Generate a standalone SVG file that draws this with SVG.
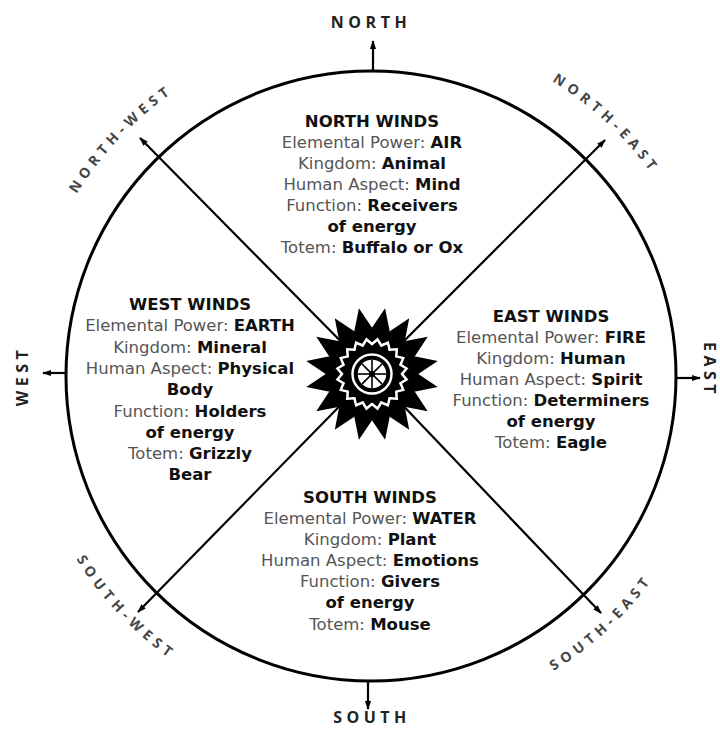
<svg xmlns="http://www.w3.org/2000/svg" xmlns:xlink="http://www.w3.org/1999/xlink" width="720" height="729" viewBox="0 0 720 729">
<style>
.t{font-family:"DejaVu Sans","Open Sans",sans-serif;font-size:16.5px;fill:#555;text-anchor:middle}
.b{font-weight:bold;fill:#111}
.h{font-family:"DejaVu Sans","Open Sans",sans-serif;font-size:16.5px;font-weight:bold;fill:#111;text-anchor:middle}
.d{font-family:"Open Sans","Liberation Sans",sans-serif;font-size:16px;font-weight:bold;fill:#222;letter-spacing:4.5px}
.dg{font-family:"Open Sans","Liberation Sans",sans-serif;font-size:14px;font-weight:bold;fill:#444;letter-spacing:5px}
.ln{stroke:#000;stroke-width:2.2;fill:none}
</style>
<defs>
<marker id="ah" viewBox="0 0 10 10" refX="9" refY="5" markerWidth="4" markerHeight="4" orient="auto" markerUnits="strokeWidth">
<path d="M0,1.5 L10,5 L0,8.5 Z" fill="#000"/>
</marker>
<polygon id="spike" points="0,-67 -9.2,-45 9.2,-45" fill="#000"/>
<path id="zz" d="M0,-30 L5.47,-34.57 L9.27,-28.53" fill="none" stroke="#fff" stroke-width="2.5" stroke-linejoin="miter" stroke-linecap="round"/>
<path id="pNW" d="M34.5,295.2 A346,346 0 0 1 272.7,44.3"/>
<path id="pNE" d="M448.8,38.9 A346,346 0 0 1 701.9,274.8"/>
<path id="pSW" d="M33.4,456.4 A347,347 0 0 0 271.9,708.5"/>
<path id="pSE" d="M449.1,714.1 A347,347 0 0 0 702.8,477.5"/>
</defs>
<rect width="720" height="729" fill="#fff"/>

<g id="connectors">
<circle cx="371" cy="376" r="305" fill="none" stroke="#000" stroke-width="3"/>
<line class="ln" x1="373" y1="71" x2="373" y2="41" marker-end="url(#ah)"/>
<line class="ln" x1="368" y1="681" x2="368" y2="709" marker-end="url(#ah)"/>
<line class="ln" x1="66" y1="373" x2="43" y2="373" marker-end="url(#ah)"/>
<line class="ln" x1="676" y1="378" x2="700" y2="378" marker-end="url(#ah)"/>
<line class="ln" x1="372" y1="373" x2="140" y2="138" marker-end="url(#ah)"/>
<line class="ln" x1="372" y1="373" x2="605" y2="140" marker-end="url(#ah)"/>
<line class="ln" x1="372" y1="373" x2="138" y2="612" marker-end="url(#ah)"/>
<line class="ln" x1="372" y1="373" x2="601" y2="613" marker-end="url(#ah)"/>
</g>

<g id="directions">
<text class="d" x="371" y="28" text-anchor="middle">NORTH</text>
<text class="d" x="372" y="723" text-anchor="middle">SOUTH</text>
<text class="d" transform="translate(28,376) rotate(-90)" text-anchor="middle">WEST</text>
<text class="d" transform="translate(704,370) rotate(90)" text-anchor="middle">EAST</text>
<text class="dg" text-anchor="middle"><textPath xlink:href="#pNW" startOffset="50%">NORTH-WEST</textPath></text>
<text class="dg" text-anchor="middle"><textPath xlink:href="#pNE" startOffset="50%">NORTH-EAST</textPath></text>
<text class="dg" text-anchor="middle"><textPath xlink:href="#pSW" startOffset="50%">SOUTH-WEST</textPath></text>
<text class="dg" text-anchor="middle"><textPath xlink:href="#pSE" startOffset="50%">SOUTH-EAST</textPath></text>
</g>

<g id="center-star" transform="translate(372,374)">
<circle r="46" fill="#000"/>
<use xlink:href="#spike" transform="rotate(11.25)"/>
<use xlink:href="#spike" transform="rotate(33.75)"/>
<use xlink:href="#spike" transform="rotate(56.25)"/>
<use xlink:href="#spike" transform="rotate(78.75)"/>
<use xlink:href="#spike" transform="rotate(101.25)"/>
<use xlink:href="#spike" transform="rotate(123.75)"/>
<use xlink:href="#spike" transform="rotate(146.25)"/>
<use xlink:href="#spike" transform="rotate(168.75)"/>
<use xlink:href="#spike" transform="rotate(191.25)"/>
<use xlink:href="#spike" transform="rotate(213.75)"/>
<use xlink:href="#spike" transform="rotate(236.25)"/>
<use xlink:href="#spike" transform="rotate(258.75)"/>
<use xlink:href="#spike" transform="rotate(281.25)"/>
<use xlink:href="#spike" transform="rotate(303.75)"/>
<use xlink:href="#spike" transform="rotate(326.25)"/>
<use xlink:href="#spike" transform="rotate(348.75)"/>
<use xlink:href="#zz" transform="rotate(0)"/>
<use xlink:href="#zz" transform="rotate(18)"/>
<use xlink:href="#zz" transform="rotate(36)"/>
<use xlink:href="#zz" transform="rotate(54)"/>
<use xlink:href="#zz" transform="rotate(72)"/>
<use xlink:href="#zz" transform="rotate(90)"/>
<use xlink:href="#zz" transform="rotate(108)"/>
<use xlink:href="#zz" transform="rotate(126)"/>
<use xlink:href="#zz" transform="rotate(144)"/>
<use xlink:href="#zz" transform="rotate(162)"/>
<use xlink:href="#zz" transform="rotate(180)"/>
<use xlink:href="#zz" transform="rotate(198)"/>
<use xlink:href="#zz" transform="rotate(216)"/>
<use xlink:href="#zz" transform="rotate(234)"/>
<use xlink:href="#zz" transform="rotate(252)"/>
<use xlink:href="#zz" transform="rotate(270)"/>
<use xlink:href="#zz" transform="rotate(288)"/>
<use xlink:href="#zz" transform="rotate(306)"/>
<use xlink:href="#zz" transform="rotate(324)"/>
<use xlink:href="#zz" transform="rotate(342)"/>
<circle r="19.5" fill="none" stroke="#fff" stroke-width="2.5"/>
<circle r="15" fill="#fff" stroke="#000" stroke-width="1.5"/>
<g stroke="#000" stroke-width="1.6">
<line x1="0" y1="-14" x2="0" y2="14"/>
<line x1="-14" y1="0" x2="14" y2="0"/>
<line x1="-9.9" y1="-9.9" x2="9.9" y2="9.9"/>
<line x1="-9.9" y1="9.9" x2="9.9" y2="-9.9"/>
</g>
<circle r="3" fill="#000"/>
</g>

<g id="north-winds">
<text class="h" x="372" y="127">NORTH WINDS</text>
<text class="t" x="372" y="148">Elemental Power: <tspan class="b">AIR</tspan></text>
<text class="t" x="372" y="169">Kingdom: <tspan class="b">Animal</tspan></text>
<text class="t" x="372" y="190">Human Aspect: <tspan class="b">Mind</tspan></text>
<text class="t" x="372" y="211">Function: <tspan class="b">Receivers</tspan></text>
<text class="t" x="372" y="232"><tspan class="b">of energy</tspan></text>
<text class="t" x="372" y="253">Totem: <tspan class="b">Buffalo or Ox</tspan></text>
</g>

<g id="west-winds">
<text class="h" x="190" y="310">WEST WINDS</text>
<text class="t" x="190" y="331">Elemental Power: <tspan class="b">EARTH</tspan></text>
<text class="t" x="190" y="352.5">Kingdom: <tspan class="b">Mineral</tspan></text>
<text class="t" x="190" y="374">Human Aspect: <tspan class="b">Physical</tspan></text>
<text class="t" x="190" y="395"><tspan class="b">Body</tspan></text>
<text class="t" x="190" y="416.5">Function: <tspan class="b">Holders</tspan></text>
<text class="t" x="190" y="438"><tspan class="b">of energy</tspan></text>
<text class="t" x="190" y="459">Totem: <tspan class="b">Grizzly</tspan></text>
<text class="t" x="190" y="480"><tspan class="b">Bear</tspan></text>
</g>

<g id="east-winds">
<text class="h" x="551" y="322">EAST WINDS</text>
<text class="t" x="551" y="343">Elemental Power: <tspan class="b">FIRE</tspan></text>
<text class="t" x="551" y="364">Kingdom: <tspan class="b">Human</tspan></text>
<text class="t" x="551" y="385">Human Aspect: <tspan class="b">Spirit</tspan></text>
<text class="t" x="551" y="406">Function: <tspan class="b">Determiners</tspan></text>
<text class="t" x="551" y="427"><tspan class="b">of energy</tspan></text>
<text class="t" x="551" y="448">Totem: <tspan class="b">Eagle</tspan></text>
</g>

<g id="south-winds">
<text class="h" x="370" y="503">SOUTH WINDS</text>
<text class="t" x="370" y="524">Elemental Power: <tspan class="b">WATER</tspan></text>
<text class="t" x="370" y="545">Kingdom: <tspan class="b">Plant</tspan></text>
<text class="t" x="370" y="566">Human Aspect: <tspan class="b">Emotions</tspan></text>
<text class="t" x="370" y="587">Function: <tspan class="b">Givers</tspan></text>
<text class="t" x="370" y="608"><tspan class="b">of energy</tspan></text>
<text class="t" x="370" y="630">Totem: <tspan class="b">Mouse</tspan></text>
</g>
</svg>
